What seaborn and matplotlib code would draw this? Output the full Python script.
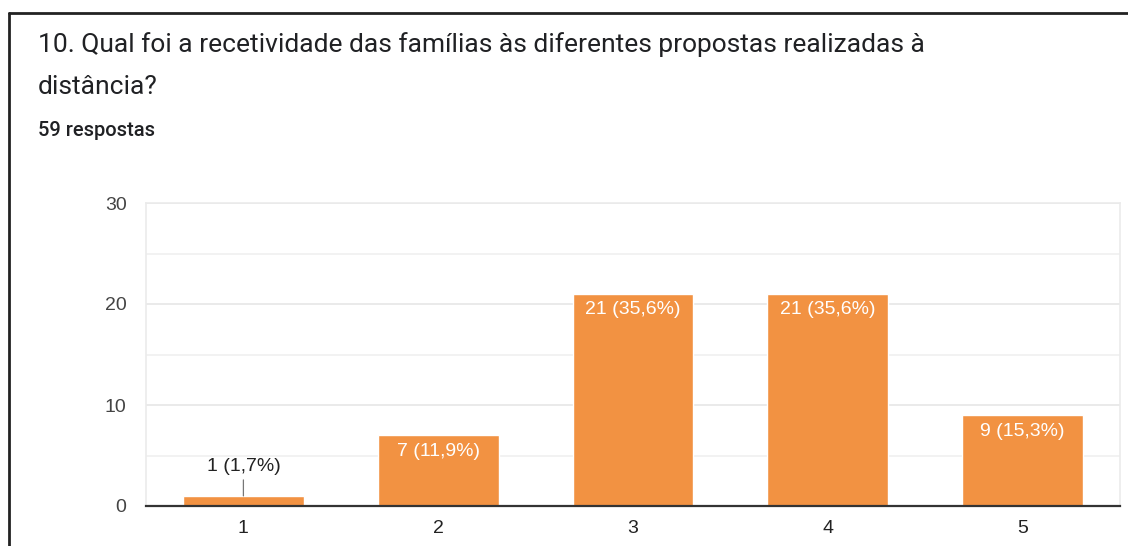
import matplotlib
matplotlib.use('Agg')
import matplotlib.pyplot as plt
import seaborn as sns
import pandas as pd
from matplotlib.lines import Line2D

sns.set_theme(style='white')
plt.rcParams['font.family'] = ['Liberation Sans', 'DejaVu Sans']

# data
categories = ['1', '2', '3', '4', '5']
counts = [1, 7, 21, 21, 9]
labels = ['1 (1,7%)', '7 (11,9%)', '21 (35,6%)', '21 (35,6%)', '9 (15,3%)']
title_lines = ['10. Qual foi a recetividade das famílias às diferentes propostas realizadas à',
               'distância?']
subtitle = '59 respostas'

df = pd.DataFrame({'resposta': categories, 'n': counts})

W, H = 1128, 546
fig = plt.figure(figsize=(W / 100, H / 100), dpi=100)
ax = fig.add_axes([146 / W, 40 / H, (1120 - 146) / W, (506 - 203) / H])

sns.barplot(data=df, x='resposta', y='n', color='#F29242', saturation=1,
            width=0.62, ax=ax, zorder=3)

ax.set_xlim(-0.5, 4.5)
ax.set_ylim(0, 30)
ax.set_yticks([0, 10, 20, 30])
ax.set_yticks([5, 15, 25], minor=True)
ax.grid(axis='y', which='major', color='#e6e6e6', linewidth=1.2, zorder=0)
ax.grid(axis='y', which='minor', color='#f0f0f0', linewidth=1.2, zorder=0)
ax.set_xlabel('')
ax.set_ylabel('')
for s in ['top', 'right', 'left']:
    ax.spines[s].set_visible(True)
    ax.spines[s].set_color('#ebebeb')
    ax.spines[s].set_linewidth(1.2)
ax.spines['bottom'].set_color('#333333')
ax.spines['bottom'].set_linewidth(1.6)
ax.spines['bottom'].set_zorder(5)
ax.tick_params(axis='both', which='both', length=0, labelsize=14, colors='#222222')
ax.tick_params(axis='y', pad=14, colors='#444444')
ax.tick_params(axis='x', pad=10)

# bar labels
for i, (v, lab) in enumerate(zip(counts, labels)):
    if v >= 5:
        ax.annotate(lab, (i, v), xytext=(0, -11.5), textcoords='offset points',
                    ha='center', va='center', color='white', fontsize=14, zorder=6)
    else:
        ax.annotate(lab, (i, v), xytext=(0, 21), textcoords='offset points',
                    ha='center', va='center', color='#222222', fontsize=14, zorder=6,
                    arrowprops=dict(arrowstyle='-', color='#777777', lw=0.9,
                                    shrinkA=1, shrinkB=0))

# header
for k, line in enumerate(title_lines):
    fig.text(38 / W, 1 - (45 + 42 * k) / H, line, ha='left', va='center', fontsize=19,
             color='#202124', family=['Roboto', 'DejaVu Sans'])
fig.text(38 / W, 1 - 131 / H, subtitle, ha='left', va='center', fontsize=14.5,
         color='#202124', family=['Roboto', 'DejaVu Sans'], fontweight='medium')

# card border
fig.add_artist(Line2D([9 / W, 1], [1 - 13 / H, 1 - 13 / H], color='#222222', lw=2,
                      transform=fig.transFigure))
fig.add_artist(Line2D([9 / W, 9 / W], [0, 1 - 13 / H], color='#222222', lw=2,
                      transform=fig.transFigure))

fig.savefig('out.png', dpi=100)
